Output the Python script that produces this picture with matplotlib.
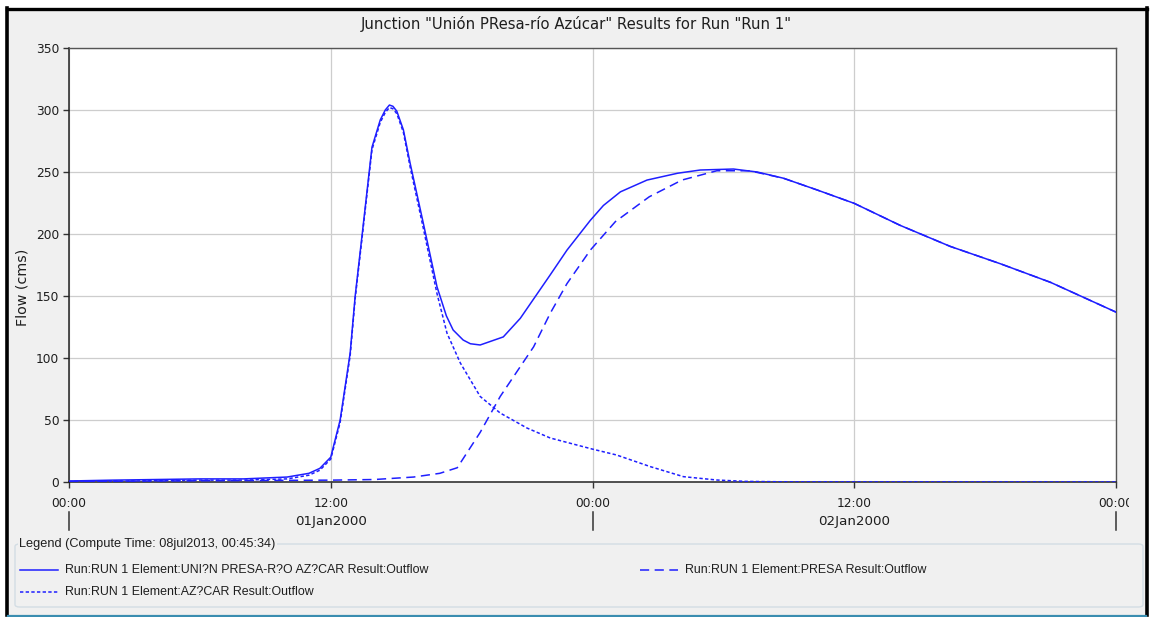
import matplotlib
matplotlib.use("Agg")
import matplotlib.pyplot as plt
from matplotlib.patches import Rectangle, FancyBboxPatch
from matplotlib.lines import Line2D
from matplotlib.transforms import Bbox

# ---- data (hours from 01Jan2000 00:00, flow in cms) ----
junction_t = [0, 2, 4, 6, 8, 10, 11, 11.5, 12, 12.43, 12.89, 13.12, 13.43, 13.89,
              14.27, 14.5, 14.69, 14.85, 15.03, 15.33, 15.64, 16.24, 16.87, 17.3,
              17.61, 18.07, 18.4, 18.85, 19.91, 20.69, 22.06, 22.83, 23.9, 24.5,
              25.28, 26.5, 27.9, 28.94, 30.46, 31.55, 32.75, 34.3, 36.0, 38.1,
              40.4, 42.7, 45.0, 48.0]
junction_q = [0.8, 1.5, 2, 2.5, 2.5, 4, 7, 11, 20, 50, 104, 150, 198, 270,
              292, 300, 304, 303, 299, 284, 257, 209, 157.5, 134,
              122.6, 114.5, 111.5, 110.5, 117, 132, 167, 187, 211, 223,
              234, 243.5, 249, 251.6, 252.4, 250, 245, 235.5, 224.7, 207,
              190, 176, 161, 137]

presa_t = [0, 6, 12, 14, 15.8, 17.0, 17.8, 18.85, 19.77, 21.3, 22.06, 22.83, 23.9,
           25.05, 26.6, 28.1, 29.7, 31.2, 32.75, 34.3, 36.0, 38.1, 40.4, 42.7, 45.0, 48.0]
presa_q = [0.5, 1, 1.5, 2, 4, 7, 11.5, 40, 69, 109, 136, 160, 187,
           210, 230, 243.5, 251, 251, 245, 235.5, 224.7, 207, 190, 176, 161, 137]

azucar_t = [0, 4, 6, 8, 10, 11, 11.5, 12, 12.43, 12.89, 13.12, 13.43, 13.89, 14.27,
            14.5, 14.69, 14.85, 15.03, 15.33, 15.64, 16.24, 16.87, 17.33, 17.94,
            18.85, 19.77, 21.0, 22.06, 23.98, 25.1, 26.65, 28.17, 29.7, 31.0, 33.0, 48.0]
azucar_q = [0.3, 1, 1.5, 1.5, 2.5, 5.5, 9.5, 18.5, 48, 102, 148, 196, 268, 290,
            298, 302, 301, 297, 282, 254, 205, 152, 120, 96,
            69, 55.6, 43.5, 35.5, 26.6, 21.8, 12.4, 4.3, 1.6, 0.5, 0.1, 0]

x_ticks = [0, 12, 24, 36, 48]
x_ticklabels = ["00:00", "12:00", "00:00", "12:00", "00:00"]
day_labels = [(12, "01Jan2000"), (36, "02Jan2000")]
y_ticks = [0, 50, 100, 150, 200, 250, 300, 350]

title = 'Junction "Unión PResa-río Azúcar" Results for Run "Run 1"'
legend_title = "Legend (Compute Time: 08jul2013, 00:45:34)"
label_junction = "Run:RUN 1 Element:UNI?N PRESA-R?O AZ?CAR Result:Outflow"
label_presa = "Run:RUN 1 Element:PRESA Result:Outflow"
label_azucar = "Run:RUN 1 Element:AZ?CAR Result:Outflow"

# ---- styling ----
plt.rcParams['font.family'] = ['DejaVu Sans']
LEG_FONT = ['Liberation Sans', 'DejaVu Sans']
W, H = 1150, 617
LINE = '#1f1fff'
TEXT = '#1e1e1e'
SOLID = '-'
DASHED = (0, (6.0, 3.6))
DOTTED = (0, (2.2, 1.5))

fig = plt.figure(figsize=(W / 100, H / 100), dpi=100, facecolor='white')


def fx(x):
    return x / W


def fy(y):
    return 1 - y / H


ft = fig.transFigure

# window background and frame
fig.patches.append(Rectangle((fx(7), fy(615)), fx(1140), (615 - 8) / H, transform=ft,
                             facecolor='#f0f0f0', edgecolor='none', zorder=-10))
fig.lines.append(Line2D([fx(7), fx(1147)], [fy(8.5), fy(8.5)], transform=ft, color='black', lw=2.4))
fig.lines.append(Line2D([fx(7), fx(7)], [fy(8), fy(615)], transform=ft, color='black', lw=2.6))
fig.lines.append(Line2D([fx(1147), fx(1147)], [fy(8), fy(615)], transform=ft, color='black', lw=2.6))
fig.lines.append(Line2D([fx(8), fx(1146)], [fy(615.5), fy(615.5)], transform=ft, color='#3a8db0', lw=1.6))

# plot area
L, T, R, B = 69, 48, 1116, 482
ax = fig.add_axes([fx(L), fy(B), (R - L) / W, (B - T) / H], zorder=2)
ax.set_facecolor('white')

ax.plot(junction_t, junction_q, color=LINE, lw=1.1, linestyle=SOLID, zorder=3)
ax.plot(presa_t, presa_q, color=LINE, lw=1.1, linestyle=DASHED, zorder=3)
ax.plot(azucar_t, azucar_q, color=LINE, lw=1.1, linestyle=DOTTED, zorder=3)

ax.set_xlim(0, 48)
ax.set_ylim(0, 350)
ax.set_xticks(x_ticks)
ax.set_xticklabels(x_ticklabels)
ax.set_yticks(y_ticks)
ax.set_yticklabels([str(v) for v in y_ticks])
ax.grid(True, color='#cdcdcd', lw=0.9)
ax.set_axisbelow(True)
ax.tick_params(axis='both', direction='out', length=4.5, width=1.0, color='#333333',
               labelsize=8.8, labelcolor=TEXT)
ax.tick_params(axis='x', pad=6)
ax.tick_params(axis='y', pad=2.5)
for side in ['left', 'bottom']:
    ax.spines[side].set_color('#222222')
    ax.spines[side].set_linewidth(1.1)
for side in ['top', 'right']:
    ax.spines[side].set_color('#555555')
    ax.spines[side].set_linewidth(1.0)

# last tick label is cut by the window edge
last = ax.get_xticklabels()[-1]
last.set_clip_box(Bbox.from_extents(0, 0, 1129, H))
last.set_clip_on(True)

ax.set_ylabel("Flow (cms)", fontsize=10.3, color=TEXT)
ax.yaxis.set_label_coords((29 - L) / (R - L), (B - 287) / (B - T))

# day labels and day separators
for t, lab in day_labels:
    xp = L + (R - L) * t / 48
    fig.text(fx(xp), fy(522), lab, ha='center', va='center', fontsize=9.6, color=TEXT)
for t in [0, 24, 48]:
    xp = L + (R - L) * t / 48
    fig.lines.append(Line2D([fx(xp), fx(xp)], [fy(512), fy(530)], transform=ft,
                            color='#333333', lw=1.1))

fig.text(fx(576), fy(24), title, ha='center', va='center', fontsize=10.7, color=TEXT)

# legend group box
box = FancyBboxPatch((fx(15), fy(607)), (1143 - 15) / W, (607 - 544) / H, transform=ft,
                     boxstyle='round,pad=0,rounding_size=0.004', facecolor='none',
                     edgecolor='#d3dde4', lw=1.0)
fig.patches.append(box)
fig.text(fx(19), fy(544), legend_title, ha='left', va='center', fontsize=9.2, color=TEXT,
         family=LEG_FONT, bbox=dict(facecolor='#f0f0f0', edgecolor='none', pad=1.0))

entries = [(20, 570, SOLID, label_junction), (640, 570, DASHED, label_presa),
           (20, 592, DOTTED, label_azucar)]
for x0, y0, ls, lab in entries:
    fig.lines.append(Line2D([fx(x0), fx(x0 + 38)], [fy(y0), fy(y0)], transform=ft,
                            color=LINE, lw=1.1, linestyle=ls))
    fig.text(fx(x0 + 45), fy(y0), lab, ha='left', va='center', fontsize=8.9, color=TEXT,
             family=LEG_FONT)

fig.savefig("out.png", dpi=100, facecolor=fig.get_facecolor())
